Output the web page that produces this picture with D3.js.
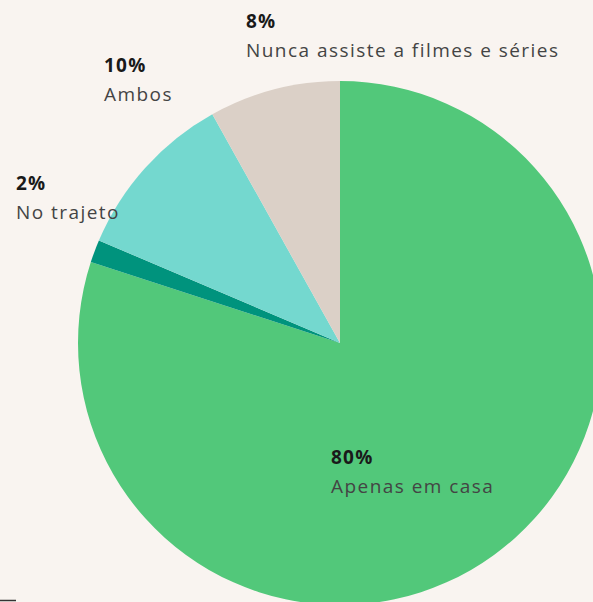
<!DOCTYPE html>
<html>
<head>
<meta charset="utf-8">
<script src="https://cdn.jsdelivr.net/npm/d3@7"></script>
<style>
  html, body { margin: 0; padding: 0; background: #f9f4f0; }
  svg { display: block; }
</style>
</head>
<body>
<div id="chart"></div>
<script>
var width = 593,
    height = 602;

// data
var categories = ["Apenas em casa", "No trajeto", "Ambos", "Nunca assiste a filmes e séries"];
var values = [80.0, 1.4, 10.5, 8.1];
var pctLabels = ["80%", "2%", "10%", "8%"];
var colors = ["#52c87a", "#00937d", "#74d8cf", "#dbd0c7"];

var cx = 340, cy = 343, radius = 262;

var svg = d3.select("#chart")
    .append("svg")
    .attr("width", width)
    .attr("height", height);

svg.append("rect")
    .attr("width", width)
    .attr("height", height)
    .attr("fill", "#f9f4f0");

var pie = d3.pie().sort(null).value(function (d) { return d; });
var arc = d3.arc().innerRadius(0).outerRadius(radius);

var g = svg.append("g")
    .attr("transform", "translate(" + cx + "," + cy + ")");

g.selectAll("path")
    .data(pie(values))
    .enter()
    .append("path")
    .attr("d", arc)
    .attr("fill", function (d, i) { return colors[i]; });

// label anchor points (top-left of each label block)
var labelPos = [[331, 464], [16, 190], [104, 72], [246, 28]];

var labels = svg.selectAll("g.label")
    .data(categories)
    .enter()
    .append("g")
    .attr("class", "label")
    .attr("transform", function (d, i) { return "translate(" + labelPos[i][0] + "," + labelPos[i][1] + ")"; });

labels.append("text")
    .attr("font-family", "'Open Sans', sans-serif")
    .attr("font-weight", "bold")
    .attr("font-size", 19)
    .attr("letter-spacing", 1.2)
    .attr("fill", "#1a1a1a")
    .text(function (d, i) { return pctLabels[i]; });

labels.append("text")
    .attr("y", 29)
    .attr("font-family", "'Open Sans', sans-serif")
    .attr("font-size", 19)
    .attr("letter-spacing", 1.45)
    .attr("fill", "#444")
    .text(function (d) { return d; });

// small tick at bottom left
svg.append("line")
    .attr("x1", 0).attr("x2", 16)
    .attr("y1", 600.5).attr("y2", 600.5)
    .attr("stroke", "#333")
    .attr("stroke-width", 1.5);
</script>
</body>
</html>
